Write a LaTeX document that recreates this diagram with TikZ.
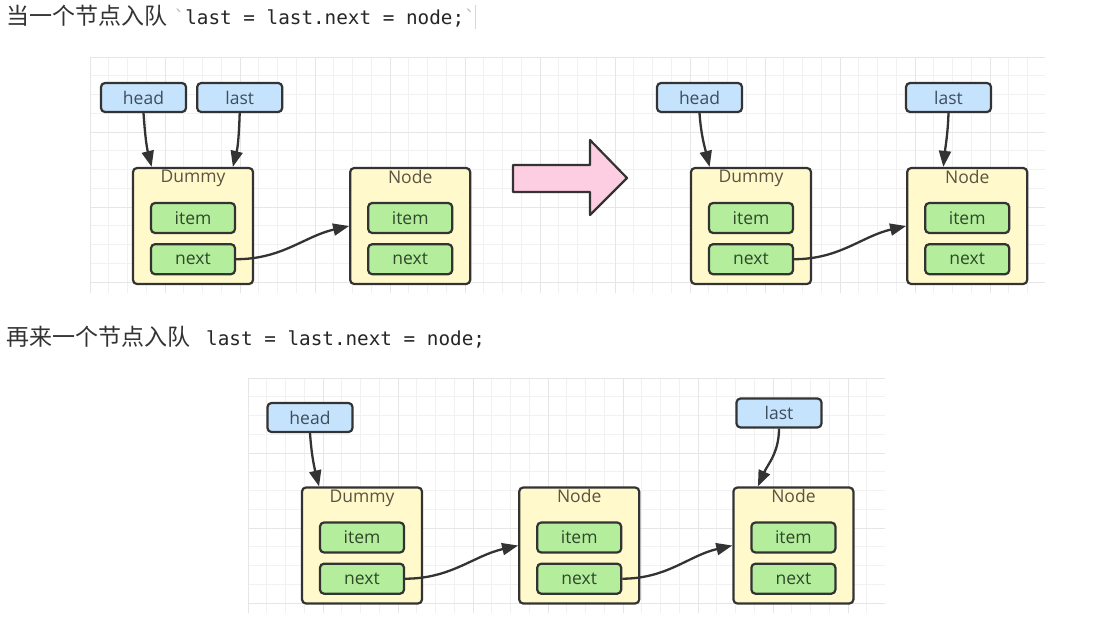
\documentclass[tikz,border=0pt]{standalone}
\usepackage{fontspec}
\setmainfont{Open Sans}
\setmonofont{DejaVu Sans Mono}
\newfontfamily\cjk{Noto Sans CJK SC}
\usetikzlibrary{positioning, arrows.meta}
\definecolor{boxline}{HTML}{333333}
\definecolor{ptrblue}{HTML}{C6E3FD}
\definecolor{holderyellow}{HTML}{FFF9CB}
\definecolor{fieldgreen}{HTML}{B4EE9D}
\definecolor{bigpink}{HTML}{FDCDE1}
\definecolor{ptrtext}{HTML}{3E4D5C}
\definecolor{nametext}{HTML}{5A5442}
\definecolor{fieldtext}{HTML}{2E4829}
\definecolor{gridc}{HTML}{F1F1F1}
\definecolor{gridmajor}{HTML}{E6E6E6}
\definecolor{tickc}{HTML}{BBBBBB}
\tikzset{%
  ptr/.style={draw=boxline, fill=ptrblue, line width=2.2pt, rounded corners=4pt,
    minimum width=85pt, minimum height=29pt, inner sep=0pt, text=ptrtext,
    font=\fontsize{17.5}{20}\selectfont},
  holder/.style={draw=boxline, fill=holderyellow, line width=2.2pt, rounded corners=4pt,
    minimum width=120pt, minimum height=116pt},
  field/.style={draw=boxline, fill=fieldgreen, line width=2.2pt, rounded corners=4pt,
    minimum width=84pt, minimum height=30pt, inner sep=0pt, text=fieldtext,
    font=\fontsize{17.5}{20}\selectfont},
  holdername/.style={inner sep=0pt, text=nametext, font=\fontsize{17.5}{20}\selectfont},
  link/.style={draw=boxline, line width=2.3pt, -{Triangle[length=16pt,width=12pt]}},
  titletext/.style={inner sep=0pt, text=black!80, font=\cjk\fontsize{23}{26}\selectfont},
  codetext/.style={inner sep=0pt, text=black!85, font=\ttfamily\fontsize{19.3}{22}\selectfont},
  gridminor/.style={draw=gridc, line width=0.8pt, step=18.75},
  gridmain/.style={draw=gridmajor, line width=0.8pt, step=75},
  bigarrow/.style={draw=boxline, fill=bigpink, line width=2.2pt, line join=round}
}
\begin{document}
\begin{tikzpicture}[x=1pt, y=1pt]
\useasboundingbox[fill=white] (0,0) rectangle (1100,-618);

% background grids
\begin{scope}[shift={(90,-57)}]
\draw[gridminor] (0,0) grid (955,-236);
\draw[gridmain] (0,0) grid (955,-236);
\end{scope}
\begin{scope}[shift={(248,-378)}]
\draw[gridminor] (0,0) grid (637,-235);
\draw[gridmain] (0,0) grid (637,-235);
\end{scope}

% headings
\node[titletext, anchor=base west] (title1) at (6,-25) {当一个节点入队};
\node[codetext, anchor=base west] (code1) at (173.5,-25) {{\color{tickc}`}last = last.next = node;{\color{tickc}`}};
\draw[tickc!60, line width=0.8pt] (475.5,-5) -- (475.5,-29);
\node[titletext, anchor=base west] (title2) at (6,-345) {再来一个节点入队};
\node[codetext, anchor=base west] (code2) at (206,-345) {last = last.next = node;};

% before
\node[ptr] (head1) at (143.5,-97.5) {head};
\node[ptr, right=9pt of head1] (last1) {last};

\node[holder] (d1) at (193,-226) {};
\node[holdername, below=3pt of d1.north] (d1name) {Dummy};
\node[field, below=35pt of d1.north] (d1item) {item};
\node[field, below=9pt of d1item] (d1next) {next};

\node[holder, right=95pt of d1] (n1) {};
\node[holdername, below=3pt of n1.north] (n1name) {Node};
\node[field, below=35pt of n1.north] (n1item) {item};
\node[field, below=9pt of n1item] (n1next) {next};

\draw[link] (head1.south) to[out=-86, in=104] (d1.125);
\draw[link] (last1.south) to[out=-92, in=76] (d1.56);
\draw[link] (d1next.east) to[out=0, in=193] (n1.west);

% big arrow
\draw[bigarrow] (513,-165) -- (590,-165) -- (590,-140) -- (627,-178)
  -- (590,-215) -- (590,-192) -- (513,-192) -- cycle;

% after
\node[ptr] (head2) at (699.5,-97.5) {head};
\node[ptr] (last2) at (948.5,-97.5) {last};

\node[holder] (d2) at (751,-226) {};
\node[holdername, below=3pt of d2.north] (d2name) {Dummy};
\node[field, below=35pt of d2.north] (d2item) {item};
\node[field, below=9pt of d2item] (d2next) {next};

\node[holder, right=94pt of d2] (n2) {};
\node[holdername, below=3pt of n2.north] (n2name) {Node};
\node[field, below=35pt of n2.north] (n2item) {item};
\node[field, below=9pt of n2item] (n2next) {next};

\draw[link] (head2.south) to[out=-86, in=104] (d2.125);
\draw[link] (last2.south) to[out=-92, in=84] (n2.112);
\draw[link] (d2next.east) to[out=0, in=193] (n2.west);

% one more
\node[ptr] (head3) at (310,-417.5) {head};
\node[ptr] (last3) at (779,-413) {last};

\node[holder] (d3) at (362,-545.5) {};
\node[holdername, below=3pt of d3.north] (d3name) {Dummy};
\node[field, below=35pt of d3.north] (d3item) {item};
\node[field, below=9pt of d3item] (d3next) {next};

\node[holder, right=95pt of d3] (n3a) {};
\node[holdername, below=3pt of n3a.north] (n3aname) {Node};
\node[field, below=35pt of n3a.north] (n3aitem) {item};
\node[field, below=9pt of n3aitem] (n3anext) {next};

\node[holder, right=92pt of n3a] (n3b) {};
\node[holdername, below=3pt of n3b.north] (n3bname) {Node};
\node[field, below=35pt of n3b.north] (n3bitem) {item};
\node[field, below=9pt of n3bitem] (n3bnext) {next};

\draw[link] (head3.south) to[out=-86, in=104] (d3.126);
\draw[link] (last3.south) to[out=-90, in=66] (n3b.121);
\draw[link] (d3next.east) to[out=0, in=193] (n3a.west);
\draw[link] (n3anext.east) to[out=0, in=193] (n3b.west);

\end{tikzpicture}
\end{document}
